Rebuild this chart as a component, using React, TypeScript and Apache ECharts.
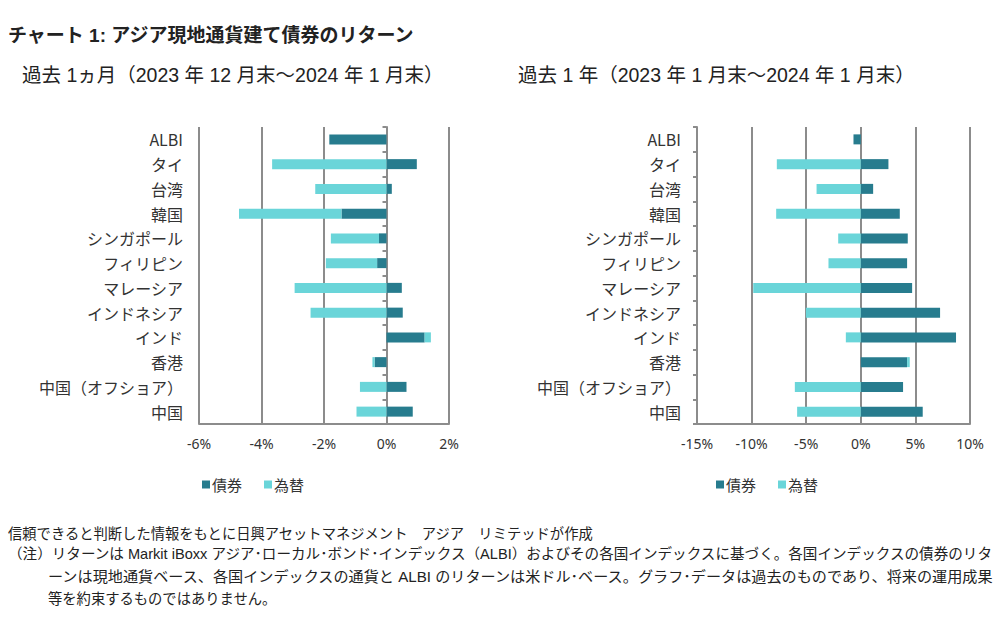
import React, { useEffect, useRef } from "react";
import * as echarts from "echarts";

const categories = ["ALBI", "タイ", "台湾", "韓国", "シンガポール", "フィリピン", "マレーシア", "インドネシア", "インド", "香港", "中国（オフショア）", "中国"];

// 過去1ヵ月
const bond1M = [-1.83, 0.97, 0.17, -1.44, -0.24, -0.30, 0.49, 0.52, 1.22, -0.38, 0.64, 0.84];
const fx1M = [null, -3.66, -2.28, -3.28, -1.54, -1.64, -2.94, -2.43, 0.20, -0.07, -0.85, -0.96];

// 過去1年
const bond1Y = [-0.67, 2.53, 1.13, 3.57, 4.30, 4.24, 4.70, 7.26, 8.72, 4.24, 3.87, 5.67];
const fx1Y = [null, -7.69, -4.05, -7.75, -2.07, -2.96, -9.85, -5.03, -1.37, 0.24, -6.04, -5.83];

const seriesNames = ["債券", "為替"];
const xRange1M = { min: -6, max: 2, interval: 2 };
const xRange1Y = { min: -15, max: 10, interval: 5 };

const title = "チャート 1: アジア現地通貨建て債券のリターン";
const sub1M = "過去 1ヵ月（2023 年 12 月末～2024 年 1 月末）";
const sub1Y = "過去 1 年（2023 年 1 月末～2024 年 1 月末）";
const notes = [
  "信頼できると判断した情報をもとに日興アセットマネジメント　アジア　リミテッドが作成",
  "（注）リターンは Markit iBoxx アジア･ローカル･ボンド･インデックス（ALBI）およびその各国インデックスに基づく。各国インデックスの債券のリタ",
  "ーンは現地通貨ベース、各国インデックスの通貨と ALBI のリターンは米ドル･ベース。グラフ･データは過去のものであり、将来の運用成果",
  "等を約束するものではありません。",
];

const DARK = "#277c8e";
const CYAN = "#6ad5d9";
const GRIDC = "#8c8c8c";
const CJK = "'Noto Sans CJK JP', 'Noto Sans', sans-serif";
const LAT = "'Noto Sans', 'Noto Sans CJK JP', sans-serif";
const MIX = "'Liberation Sans', 'Noto Sans CJK JP', sans-serif";

function xAxisFor(gridIndex: number, r: { min: number; max: number; interval: number }) {
  return {
    type: "value",
    gridIndex,
    min: r.min,
    max: r.max,
    interval: r.interval,
    axisLine: { show: true, onZero: false, lineStyle: { color: GRIDC, width: 2 } },
    axisTick: { show: false },
    splitLine: { show: true, lineStyle: { color: GRIDC, width: 2 } },
    axisLabel: { formatter: "{value}%", color: "#333", fontSize: 14, fontFamily: LAT, margin: 12 },
  };
}

function yAxesFor(gridIndex: number) {
  return [
    {
      type: "category",
      gridIndex,
      data: categories,
      inverse: true,
      position: "left",
      axisLine: { show: false, onZero: false },
      axisTick: { show: false },
      axisLabel: { color: "#333", fontSize: 16, fontFamily: CJK, margin: 16 },
    },
    {
      type: "category",
      gridIndex,
      data: categories,
      inverse: true,
      position: "left",
      axisLine: { show: true, onZero: true, onZeroAxisIndex: 0, lineStyle: { color: GRIDC, width: 2 } },
      axisTick: { show: true, length: 4, inside: false, lineStyle: { color: GRIDC, width: 2 } },
      axisLabel: { show: false },
    },
  ];
}

function fitScale(text: string, font: string, target: number) {
  const c = document.createElement("canvas").getContext("2d");
  if (!c) return 1;
  c.font = font;
  const w = c.measureText(text).width;
  return w > 0 ? target / w : 1;
}

export default function App() {
  const ref = useRef<HTMLDivElement>(null);
  useEffect(() => {
    if (!ref.current) return;
    const chart = echarts.init(ref.current, null, { renderer: "svg" });
    const legendBase = {
      data: seriesNames,
      top: 477,
      itemWidth: 8,
      itemHeight: 8,
      itemGap: 22,
      icon: "rect",
      padding: 0,
      textStyle: { fontSize: 15, color: "#333", fontFamily: CJK, padding: [0, 0, 0, -3] },
      selectedMode: false,
    };
    const noteFont = `14.3px ${MIX}`;
    const s2 = fitScale(notes[1], noteFont, 987);
    const s3 = fitScale(notes[2], noteFont, 947);
    const txt = (x: number, y: number, text: string, font: string, scaleX = 1) => ({
      type: "text",
      x,
      y,
      scaleX,
      style: { text, font, fill: "#222", verticalAlign: "top", align: "left" },
    });
    chart.setOption({
      animation: false,
      backgroundColor: "#fff",
      grid: [
        { left: 199, right: 1004 - 449, top: 127, bottom: 635 - 424 },
        { left: 697, right: 1004 - 970, top: 127, bottom: 635 - 424 },
      ],
      xAxis: [xAxisFor(0, xRange1M), xAxisFor(1, xRange1Y)],
      yAxis: [...yAxesFor(0), ...yAxesFor(1)],
      legend: [
        { ...legendBase, left: 202 },
        { ...legendBase, left: 716 },
      ],
      series: [
        { name: seriesNames[0], type: "bar", xAxisIndex: 0, yAxisIndex: 0, stack: "m", data: bond1M, barWidth: 10, itemStyle: { color: DARK } },
        { name: seriesNames[1], type: "bar", xAxisIndex: 0, yAxisIndex: 0, stack: "m", data: fx1M, barWidth: 10, itemStyle: { color: CYAN } },
        { name: seriesNames[0], type: "bar", xAxisIndex: 1, yAxisIndex: 2, stack: "y", data: bond1Y, barWidth: 10, itemStyle: { color: DARK } },
        { name: seriesNames[1], type: "bar", xAxisIndex: 1, yAxisIndex: 2, stack: "y", data: fx1Y, barWidth: 10, itemStyle: { color: CYAN } },
      ],
      graphic: [
        txt(8, 26, title, `bold 19px ${MIX}`),
        txt(22, 65, sub1M, `19.5px ${MIX}`),
        txt(518, 65, sub1Y, `19.5px ${MIX}`),
        txt(8, 527, notes[0], noteFont),
        txt(8, 547, notes[1], noteFont, s2),
        txt(48, 570, notes[2], noteFont, s3),
        txt(48, 592, notes[3], noteFont),
      ],
    });
    return () => chart.dispose();
  }, []);
  return <div ref={ref} style={{ position: "absolute", left: 0, top: 0, width: 1004, height: 635 }} />;
}
